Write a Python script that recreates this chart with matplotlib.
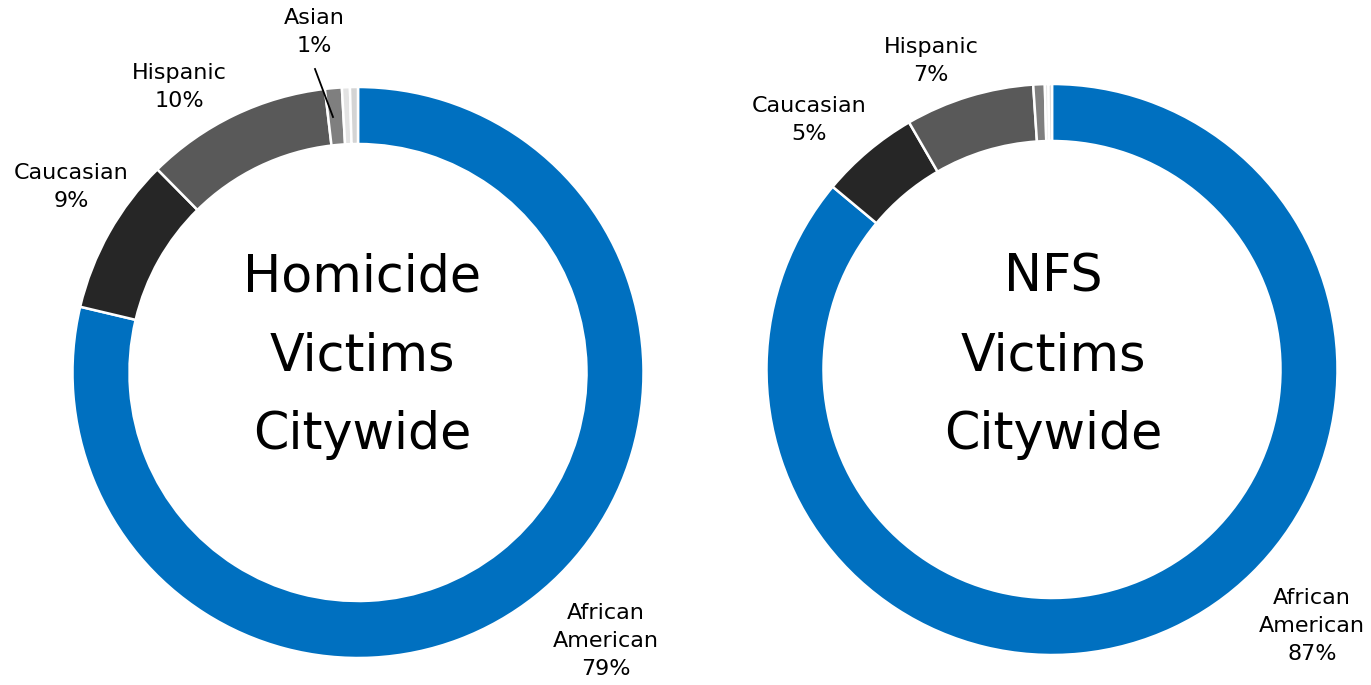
import matplotlib
matplotlib.use("Agg")
import matplotlib.pyplot as plt

# ---- data ----
categories = ["African American", "Caucasian", "Hispanic", "Asian", "Other", "Unknown"]
homicide_values = [78.7, 8.9, 10.55, 0.95, 0.45, 0.45]
nfs_values = [86.1, 5.6, 7.3, 0.65, 0.2, 0.2]
colors = ["#0070C0", "#262626", "#595959", "#7F7F7F", "#E3E3E3", "#D4D4D4"]
homicide_title = "Homicide\nVictims\nCitywide"
nfs_title = "NFS\nVictims\nCitywide"
homicide_labels = {"African American": "African\nAmerican\n79%", "Caucasian": "Caucasian\n9%",
                   "Hispanic": "Hispanic\n10%", "Asian": "Asian\n1%"}
nfs_labels = {"African American": "African\nAmerican\n87%", "Caucasian": "Caucasian\n5%",
              "Hispanic": "Hispanic\n7%"}

plt.rcParams['font.family'] = ['DejaVu Sans']

W, H = 1371, 685
fig = plt.figure(figsize=(W / 100, H / 100), dpi=100)
ax = fig.add_axes([0, 0, 1, 1])

R = 285.5
ring = 57


def donut(values, cx, cy_pix):
    ax.pie(values, colors=colors, startangle=90, counterclock=False,
           center=(cx, H - cy_pix), radius=R, frame=True,
           wedgeprops=dict(width=ring, edgecolor='white', linewidth=1.8))


donut(homicide_values, 358, 372.5)
donut(nfs_values, 1052, 369.5)
ax.set_xlim(0, W)
ax.set_ylim(0, H)
ax.set_aspect('equal')
ax.axis('off')

fs_c = 36.5
ax.text(362, H - 356, homicide_title, ha='center', va='center', fontsize=fs_c,
        linespacing=1.74, color='black')
ax.text(1053, H - 356, nfs_title, ha='center', va='center', fontsize=fs_c,
        linespacing=1.74, color='black')

fs = 16
def lab(txt, x, y):
    ax.text(x, H - y, txt, ha='center', va='center', fontsize=fs, linespacing=1.5)

lab(homicide_labels["Asian"], 314, 32)
lab(homicide_labels["Hispanic"], 179, 87)
lab(homicide_labels["Caucasian"], 71, 187)
lab(homicide_labels["African American"], 606, 641)
ax.plot([315, 333], [H - 69, H - 117], color='black', lw=1.3)

lab(nfs_labels["Hispanic"], 931, 61)
lab(nfs_labels["Caucasian"], 809, 120)
lab(nfs_labels["African American"], 1312, 626)

fig.savefig("out.png", dpi=100)
